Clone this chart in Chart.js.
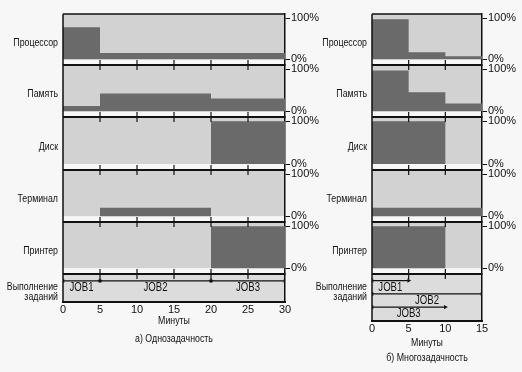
<!DOCTYPE html>
<html lang="ru">
<head>
  <meta charset="UTF-8" />
  <title>Однозадачность и многозадачность</title>
  <script src="https://cdn.jsdelivr.net/npm/chart.js"></script>
  <style>
    body {
      margin: 0;
      padding: 0;
      width: 522px;
      height: 372px;
      background: #f7f7f7;
      position: relative;
      overflow: hidden;
    }
    canvas {
      position: absolute;
      top: 0;
    }
    #singleChart { left: 0; }
    #multiChart { left: 310px; }
  </style>
</head>
<body>
  <canvas id="singleChart" width="330" height="372"></canvas>
  <canvas id="multiChart" width="212" height="372"></canvas>

  <script>
    const resourceNames = ['Процессор', 'Память', 'Диск', 'Терминал', 'Принтер'];
    const resourceIds = ['cpu', 'mem', 'disk', 'term', 'prn'];
    const pctTicks = [0, 100];

    // а) однозадачность: границы интервалов (мин) и загрузка (%) на каждом
    const singleEdges = [0, 5, 20, 30];
    const singleCpu  = [78, 15, 15];
    const singleMem  = [12, 42, 30];
    const singleDisk = [0, 0, 100];
    const singleTerm = [0, 20, 0];
    const singlePrn  = [0, 0, 100];
    const singleJobs = ['JOB1', 'JOB2', 'JOB3'];
    const singleJobStart = [0, 5, 20];
    const singleJobEnd   = [5, 20, 30];

    // б) многозадачность
    const multiEdges = [0, 5, 10, 15];
    const multiCpu  = [97, 17, 7];
    const multiMem  = [97, 45, 18];
    const multiDisk = [100, 100, 0];
    const multiTerm = [20, 20, 20];
    const multiPrn  = [100, 100, 0];
    const multiJobs = ['JOB1', 'JOB2', 'JOB3'];
    const multiJobStart = [0, 0, 0];
    const multiJobEnd   = [5, 15, 10];

    const FONT = "'Liberation Sans', Arial, sans-serif";
    const INK = '#111111';
    const DARK = '#6a6a6a';
    const LIGHT = '#d2d2d2';
    const JOBS_BG = '#dcdcdc';

    Chart.defaults.font.family = FONT;
    Chart.defaults.color = INK;

    // узкий шрифт: обычный текст, сжатый по горизонтали
    function narrowText(ctx, text, x, y, align, size, squeeze) {
      ctx.save();
      ctx.translate(x, y);
      ctx.scale(squeeze, 1);
      ctx.font = size + 'px ' + FONT;
      ctx.textAlign = align;
      ctx.textBaseline = 'middle';
      ctx.fillText(text, 0, 0);
      ctx.restore();
    }

    const panelPlugin = {
      id: 'panels',
      beforeDraw(chart) {
        const { ctx, chartArea: a, scales } = chart;
        ctx.save();
        ctx.fillStyle = LIGHT;
        resourceIds.forEach(id => {
          const s = scales[id];
          ctx.fillRect(a.left, s.top, a.width, s.getPixelForValue(0) - s.top);
        });
        const j = scales.jobs;
        ctx.fillStyle = JOBS_BG;
        ctx.fillRect(a.left, j.top, a.width, j.bottom - j.top);
        ctx.restore();
      },
      afterDraw(chart) {
        const { ctx, chartArea: a, scales } = chart;
        const opts = chart.options.plugins.panels;
        const x = scales.x;
        const j = scales.jobs;
        ctx.save();
        ctx.strokeStyle = INK;

        // верхняя и левая рамка
        ctx.lineWidth = 1.5;
        ctx.beginPath();
        ctx.moveTo(a.left, a.top);
        ctx.lineTo(a.right, a.top);
        ctx.moveTo(a.left, a.top);
        ctx.lineTo(a.left, a.bottom);
        ctx.stroke();

        // разделители панелей с засечками
        resourceIds.forEach(id => {
          const y = scales[id].bottom;
          ctx.lineWidth = 2;
          ctx.beginPath();
          ctx.moveTo(a.left, y);
          ctx.lineTo(a.right, y);
          ctx.stroke();
          ctx.lineWidth = 1.2;
          x.ticks.forEach(t => {
            if (t.value <= x.min || t.value >= x.max) return;
            const px = x.getPixelForValue(t.value);
            ctx.beginPath();
            ctx.moveTo(px, y - 5);
            ctx.lineTo(px, y + 5);
            ctx.stroke();
          });
        });

        // подписи панелей
        ctx.fillStyle = INK;
        resourceIds.forEach((id, k) => {
          narrowText(ctx, resourceNames[k], a.left - 5, scales[id].getPixelForValue(40), 'right', 11, 0.8);
        });
        narrowText(ctx, 'Выполнение', a.left - 5, j.top + 13, 'right', 11, 0.8);
        narrowText(ctx, 'заданий', a.left - 5, j.top + 23, 'right', 11, 0.8);

        // имена заданий под стрелками
        chart.data.datasets.forEach(d => {
          if (d.yAxisID !== 'jobs') return;
          const mid = (d.data[0].x + d.data[1].x) / 2;
          narrowText(ctx, d.label, x.getPixelForValue(mid), j.getPixelForValue(d.data[0].y + 0.5), 'center', 12, 0.8);
        });

        // подпись оси и заголовок
        const cx = (a.left + a.right) / 2;
        narrowText(ctx, 'Минуты', cx, a.bottom + opts.axisTitleGap, 'center', 11, 0.8);
        narrowText(ctx, opts.caption, cx, a.bottom + opts.captionGap, 'center', 11, 0.8);
        ctx.restore();
      }
    };

    function makeChart(id, cfg) {
      const datasets = [];
      cfg.series.forEach((vals, k) => {
        const pts = vals.map((v, i) => ({ x: cfg.edges[i], y: v }));
        pts.push({ x: cfg.edges[cfg.edges.length - 1], y: vals[vals.length - 1] });
        datasets.push({
          type: 'line',
          label: resourceNames[k],
          data: pts,
          yAxisID: resourceIds[k],
          stepped: true,
          fill: 'origin',
          backgroundColor: DARK,
          borderColor: 'rgba(0,0,0,0)',
          borderWidth: 1,
          pointRadius: 0
        });
      });
      cfg.jobs.forEach((name, i) => {
        datasets.push({
          type: 'line',
          label: name,
          data: [{ x: cfg.start[i], y: cfg.rows[i] }, { x: cfg.end[i], y: cfg.rows[i] }],
          yAxisID: 'jobs',
          borderColor: INK,
          borderWidth: 1.3,
          fill: false,
          pointStyle: 'triangle',
          pointRadius: 2.5,
          pointRotation: [-90, 90],
          pointBackgroundColor: INK,
          pointBorderWidth: 0
        });
      });

      const scales = {
        x: {
          type: 'linear',
          position: 'bottom',
          min: 0,
          max: cfg.xMax,
          ticks: { stepSize: 5, padding: 1, font: { size: 11 }, color: INK },
          grid: { display: false, drawTicks: false },
          border: { display: true, color: INK, width: 2 },
          afterFit: s => { s.height = cfg.xHeight; }
        }
      };
      resourceIds.forEach((rid, k) => {
        scales[rid] = {
          type: 'linear',
          position: 'right',
          stack: 'panels',
          stackWeight: cfg.weights[k],
          min: -14,
          max: 110,
          afterBuildTicks: s => { s.ticks = pctTicks.map(v => ({ value: v })); },
          ticks: { callback: v => v + '%', font: { size: 11 }, color: INK, padding: 1 },
          grid: { drawOnChartArea: false, drawTicks: true, tickLength: 5, color: INK, lineWidth: 1 },
          border: { display: true, color: INK, width: 1.5 },
          afterFit: s => { s.width = cfg.axisW; }
        };
      });
      scales.jobs = {
        type: 'linear',
        position: 'right',
        stack: 'panels',
        stackWeight: cfg.weights[5],
        reverse: true,
        min: -0.5,
        max: cfg.jobsMax,
        ticks: { display: false },
        grid: { display: false },
        border: { display: true, color: INK, width: 1.5 },
        afterFit: s => { s.width = cfg.axisW; }
      };

      return new Chart(id, {
        type: 'line',
        data: { datasets },
        options: {
          responsive: false,
          animation: false,
          layout: { padding: { left: cfg.padLeft, top: 14, right: 0, bottom: 0 } },
          plugins: {
            legend: { display: false },
            tooltip: { enabled: false },
            panels: { caption: cfg.caption, axisTitleGap: cfg.axisTitleGap, captionGap: cfg.captionGap }
          },
          scales
        },
        plugins: [panelPlugin]
      });
    }

    makeChart('singleChart', {
      edges: singleEdges,
      series: [singleCpu, singleMem, singleDisk, singleTerm, singlePrn],
      jobs: singleJobs,
      start: singleJobStart,
      end: singleJobEnd,
      rows: singleJobs.map(() => 0),
      xMax: 30,
      caption: 'а) Однозадачность',
      weights: [51, 52, 53, 52, 52, 28],
      jobsMax: 1.55,
      padLeft: 63,
      axisW: 45,
      xHeight: 70,
      axisTitleGap: 19,
      captionGap: 37
    });

    makeChart('multiChart', {
      edges: multiEdges,
      series: [multiCpu, multiMem, multiDisk, multiTerm, multiPrn],
      jobs: multiJobs,
      start: multiJobStart,
      end: multiJobEnd,
      rows: multiJobs.map((_, i) => i),
      xMax: 15,
      caption: 'б) Многозадачность',
      weights: [51, 52, 53, 52, 52, 47],
      jobsMax: 3.05,
      padLeft: 62,
      axisW: 40,
      xHeight: 51,
      axisTitleGap: 22,
      captionGap: 37
    });
  </script>
</body>
</html>
